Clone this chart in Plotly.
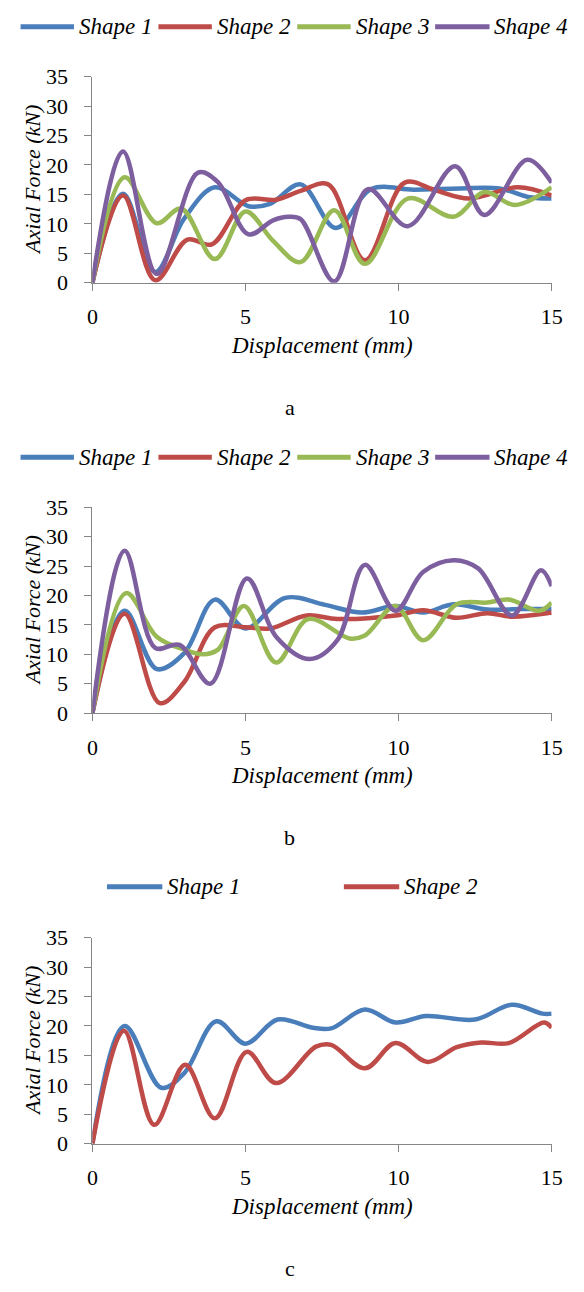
import plotly.graph_objects as go

W, H = 584, 1292

SERIES_NAMES = ["Shape 1", "Shape 2", "Shape 3", "Shape 4"]
COLORS = ["#4A7EBB", "#BE4B48", "#98B954", "#7D5FA0"]
X_TICKS = [0, 5, 10, 15]
Y_TICKS = [0, 5, 10, 15, 20, 25, 30, 35]

# ---- Panel a ----
a_shape1_x = [0, 1, 2.05, 3, 4, 5.1, 5.8, 6.8, 7.95, 9.1, 10.5, 12, 13.3, 14.3, 15]
a_shape1_y = [0, 15.1, 1.8, 10.9, 16.2, 13.0, 13.4, 16.7, 9.3, 15.9, 15.8, 16.0, 16.0, 14.5, 14.3]
a_shape2_x = [0, 1, 2.05, 3.1, 3.9, 5, 6, 6.8, 7.7, 8.9, 10.2, 11.2, 12.3, 13.9, 15]
a_shape2_y = [0, 14.8, 0.4, 7.3, 6.5, 14.0, 14.1, 15.6, 16.7, 3.8, 17.0, 15.7, 14.3, 16.2, 14.8]
a_shape3_x = [0, 1.05, 2.1, 2.9, 4, 5, 5.9, 6.8, 7.9, 8.9, 10.3, 11.8, 12.8, 13.8, 15]
a_shape3_y = [0, 17.9, 10.1, 12.6, 4.0, 12.1, 7.1, 3.5, 12.3, 3.2, 14.3, 11.2, 15.4, 13.2, 16.2]
a_shape4_x = [0, 1, 2.1, 3.45, 4.1, 5.1, 5.9, 6.4, 6.8, 7.9, 9, 10.3, 11.85, 12.8, 14.2, 15]
a_shape4_y = [0, 22.3, 1.5, 18.7, 17.1, 8.2, 10.6, 11.2, 10.8, 0.2, 15.9, 9.6, 19.8, 11.5, 20.9, 17.0]

# ---- Panel b ----
b_shape1_x = [0, 1.05, 2.1, 3, 4, 5, 6.3, 7.6, 8.8, 9.9, 10.8, 11.8, 12.9, 14, 15]
b_shape1_y = [0, 17.4, 7.5, 10.2, 19.3, 14.4, 19.6, 18.4, 17.1, 18.2, 17.1, 18.5, 17.6, 17.7, 17.7]
b_shape2_x = [0, 1.05, 2.2, 3, 4, 5, 5.8, 7, 8, 9.9, 10.8, 11.9, 12.9, 13.7, 15]
b_shape2_y = [0, 16.9, 1.7, 5.3, 14.6, 14.6, 14.4, 16.6, 16.0, 16.6, 17.5, 16.2, 17.0, 16.4, 17.1]
b_shape3_x = [0, 1.1, 2.1, 3, 3.6, 4.1, 4.95, 6, 7.05, 8.4, 8.9, 9.9, 10.8, 11.9, 12.9, 13.6, 14.6, 15]
b_shape3_y = [0, 20.4, 13.0, 10.8, 10.0, 10.8, 18.2, 8.6, 16.0, 12.7, 13.2, 18.2, 12.4, 18.5, 18.8, 19.3, 17.4, 18.8]
b_shape4_x = [0, 1.05, 2.05, 2.85, 3.85, 5.05, 6, 7.1, 8, 8.9, 9.9, 10.8, 11.8, 12.6, 13.7, 14.65, 15]
b_shape4_y = [0, 27.6, 11.1, 11.6, 5.0, 22.9, 13.0, 9.2, 12.4, 25.2, 17.4, 24.0, 26.0, 24.6, 16.6, 24.3, 21.6]

# ---- Panel c ----
c_shape1_x = [0, 1.05, 2.25, 3, 4.05, 5, 6.05, 7.2, 7.8, 8.9, 9.9, 10.9, 12.5, 13.7, 14.7, 15]
c_shape1_y = [0, 20.0, 9.5, 12.0, 20.8, 17.0, 21.1, 19.7, 19.6, 22.8, 20.6, 21.7, 21.1, 23.6, 22.1, 22.1]
c_shape2_x = [0, 1.03, 2.02, 3.03, 4, 5.04, 6, 7.3, 7.8, 8.9, 9.9, 10.95, 11.9, 12.7, 13.6, 14.75, 15]
c_shape2_y = [0, 19.2, 3.2, 13.4, 4.3, 15.6, 10.3, 16.5, 16.8, 12.8, 17.1, 13.9, 16.4, 17.2, 17.1, 20.6, 19.7]

panels = [
    dict(series=[(a_shape1_x, a_shape1_y), (a_shape2_x, a_shape2_y),
                 (a_shape3_x, a_shape3_y), (a_shape4_x, a_shape4_y)],
         top=66, bottom=276, label="a",
         legend_y=15, legend_lines=[(15, 70), (157, 212), (300, 355), (442, 498)]),
    dict(series=[(b_shape1_x, b_shape1_y), (b_shape2_x, b_shape2_y),
                 (b_shape3_x, b_shape3_y), (b_shape4_x, b_shape4_y)],
         top=505, bottom=715, label="b",
         legend_y=454, legend_lines=[(15, 70), (157, 212), (300, 355), (442, 498)]),
    dict(series=[(c_shape1_x, c_shape1_y), (c_shape2_x, c_shape2_y)],
         top=944, bottom=1154, label="c",
         legend_y=892, legend_lines=[(104, 161), (348, 405)]),
]

FONT = "Liberation Serif"
AXIS_GRAY = "#868686"
X_LEFT, X_RIGHT = 89, 562


def px(x):
    return x / W


def py(y):
    return 1 - y / H


fig = go.Figure()
shapes = []
annotations = []
layout_axes = {}

for i, p in enumerate(panels):
    k = "" if i == 0 else str(i + 1)
    xa, ya = "x" + k, "y" + k
    for j, (xs, ys) in enumerate(p["series"]):
        fig.add_trace(go.Scatter(
            x=xs, y=ys, mode="lines", name=SERIES_NAMES[j], showlegend=False,
            line=dict(color=COLORS[j], width=4.5, shape="spline", smoothing=1.0),
            xaxis=xa, yaxis=ya, hoverinfo="skip"))
    layout_axes["xaxis" + k] = dict(
        domain=[px(X_LEFT), px(X_RIGHT)], range=[0, 15], anchor=ya,
        tickvals=X_TICKS, ticks="outside", ticklen=7, tickcolor=AXIS_GRAY,
        ticklabelstandoff=7,
        showline=True, linecolor=AXIS_GRAY, linewidth=1, showgrid=False,
        zeroline=False, tickfont=dict(family=FONT, size=22, color="black"))
    layout_axes["yaxis" + k] = dict(
        domain=[py(p["bottom"]), py(p["top"])], range=[0, 35], anchor=xa,
        tickvals=Y_TICKS, ticks="outside", ticklen=7, tickcolor=AXIS_GRAY,
        ticklabelstandoff=12,
        showline=True, linecolor=AXIS_GRAY, linewidth=1, showgrid=False,
        zeroline=False, tickfont=dict(family=FONT, size=22, color="black"))
    # axis titles
    annotations.append(dict(
        text="Axial Force (kN)", textangle=-90, x=px(27), y=py((p["top"] + p["bottom"]) / 2),
        xref="paper", yref="paper", showarrow=False, xanchor="center", yanchor="middle",
        font=dict(family=FONT, size=22, color="black", style="italic")))
    annotations.append(dict(
        text="Displacement (mm)", x=px((X_LEFT + X_RIGHT) / 2), y=py(p["bottom"] + 64),
        xref="paper", yref="paper", showarrow=False, xanchor="center", yanchor="middle",
        font=dict(family=FONT, size=23, color="black", style="italic")))
    annotations.append(dict(
        text=p["label"], x=px(292), y=py(p["bottom"] + 127),
        xref="paper", yref="paper", showarrow=False, xanchor="center", yanchor="middle",
        font=dict(family=FONT, size=22, color="black")))
    # legend (drawn manually)
    for j, (x0, x1) in enumerate(p["legend_lines"]):
        shapes.append(dict(type="line", xref="paper", yref="paper",
                           x0=px(x0), x1=px(x1), y0=py(p["legend_y"]), y1=py(p["legend_y"]),
                           line=dict(color=COLORS[j], width=5)))
        annotations.append(dict(
            text=SERIES_NAMES[j], x=px(x1 + 3), y=py(p["legend_y"]),
            xref="paper", yref="paper", showarrow=False, xanchor="left", yanchor="middle",
            font=dict(family=FONT, size=23, color="black", style="italic")))

fig.update_layout(
    width=W, height=H, margin=dict(l=0, r=0, t=0, b=0),
    paper_bgcolor="white", plot_bgcolor="white",
    font=dict(family=FONT, color="black"),
    showlegend=False, shapes=shapes, annotations=annotations,
    **layout_axes)

fig.write_html("out.html")
